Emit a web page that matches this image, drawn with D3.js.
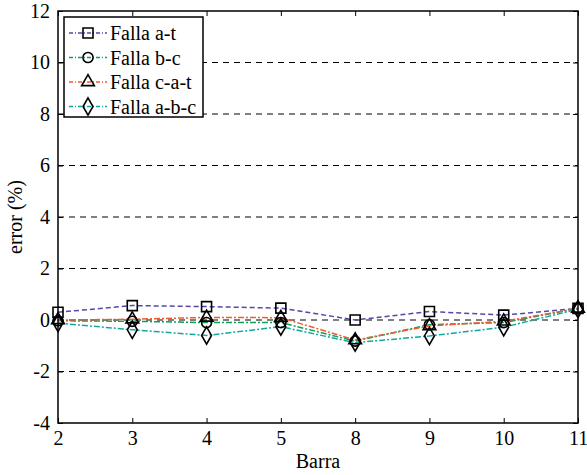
<!DOCTYPE html>
<html>
<head>
<meta charset="utf-8">
<script src="https://cdn.jsdelivr.net/npm/d3@7"></script>
<style>
  body { margin: 0; background: white; }
</style>
</head>
<body>
<div id="chart"></div>
<script>
// data
var barras = ["2", "3", "4", "5", "8", "9", "10", "11"];
var y_ticks = [-4, -2, 0, 2, 4, 6, 8, 10, 12];
var falla_at   = [0.30, 0.56, 0.52, 0.46, 0.00, 0.33, 0.19, 0.45];
var falla_bc   = [-0.03, -0.05, -0.10, -0.10, -0.82, -0.18, -0.10, 0.45];
var falla_cat  = [0.00, 0.03, 0.10, 0.09, -0.78, -0.23, -0.05, 0.45];
var falla_abc  = [-0.12, -0.38, -0.60, -0.26, -0.88, -0.62, -0.28, 0.42];

var series_names = ["Falla a-t", "Falla b-c", "Falla c-a-t", "Falla a-b-c"];
var series_vals = [falla_at, falla_bc, falla_cat, falla_abc];
var series_cols = ["#5548a8", "#0f9f55", "#f45a32", "#12a8a0"];
var series_dash = ["5,3", "6,2,2,2", "6,2,2,2", "6,2,2,2"];
var series_mark = ["square", "circle", "triangle", "diamond"];

var W = 587, H = 475;
// plot box edges (window.top is reserved, so use prefixed names)
var pLeft = 58, pRight = 578, pTop = 11, pBottom = 423;
var FONT = "'Liberation Serif', 'Times New Roman', serif";

var svg = d3.select("#chart").append("svg")
  .attr("width", W)
  .attr("height", H)
  .attr("font-family", FONT);

var x = d3.scalePoint().domain(barras).range([pLeft, pRight]).padding(0);
var y = d3.scaleLinear().domain([-4, 12]).range([pBottom, pTop]);

// grid lines (horizontal, dashed)
svg.append("g").selectAll("line")
  .data(y_ticks.filter(function(d){ return d > -4 && d < 12; }))
  .enter().append("line")
    .attr("x1", pLeft).attr("x2", pRight)
    .attr("y1", function(d){ return y(d); })
    .attr("y2", function(d){ return y(d); })
    .style("stroke", "black")
    .style("stroke-width", 1)
    .style("stroke-dasharray", "6,5");

// axes with inward ticks, mirrored on the other sides
var plain = function(d){ return String(d); };   // plain hyphen like matlab
var xAxis = d3.axisBottom(x).tickSizeInner(-5).tickSizeOuter(0).tickPadding(8);
var yAxis = d3.axisLeft(y).tickValues(y_ticks).tickFormat(plain)
  .tickSizeInner(-5).tickSizeOuter(0).tickPadding(8);

var gx = svg.append("g").attr("transform", "translate(0," + pBottom + ")").call(xAxis);
var gy = svg.append("g").attr("transform", "translate(" + pLeft + ",0)").call(yAxis);
svg.append("g").attr("transform", "translate(0," + pTop + ")")
  .call(d3.axisTop(x).tickSizeInner(-5).tickSizeOuter(0).tickFormat(""));
svg.append("g").attr("transform", "translate(" + pRight + ",0)")
  .call(d3.axisRight(y).tickValues(y_ticks).tickSizeInner(-5).tickSizeOuter(0).tickFormat(""));

svg.selectAll(".domain").remove();
svg.selectAll(".tick line").style("stroke", "black").style("stroke-width", 1);
[gx, gy].forEach(function(g){
  g.attr("font-family", FONT).attr("font-size", 20);
  g.selectAll("text").attr("fill", "black");
});

// series lines
var line = d3.line()
  .x(function(d, i){ return x(barras[i]); })
  .y(function(d){ return y(d); });

var symbols = {
  square: d3.symbolSquare,
  circle: d3.symbolCircle,
  triangle: d3.symbolTriangle,
  diamond: d3.symbolDiamond
};
var symSize = { square: 100, circle: 80, triangle: 70, diamond: 85 };

for (var s = 0; s < series_vals.length; s++) {
  svg.append("path")
    .datum(series_vals[s])
    .attr("d", line)
    .style("fill", "none")
    .style("stroke", series_cols[s])
    .style("stroke-width", 1.5)
    .style("stroke-dasharray", series_dash[s]);
}
for (var s = 0; s < series_vals.length; s++) {
  var m = series_mark[s];
  svg.append("g").selectAll("path")
    .data(series_vals[s])
    .enter().append("path")
      .attr("transform", function(d, i){ return "translate(" + x(barras[i]) + "," + y(d) + ")"; })
      .attr("d", d3.symbol().type(symbols[m]).size(symSize[m]))
      .style("fill", "none")
      .style("stroke", "black")
      .style("stroke-width", 1.6);
}

// axes box
svg.append("rect")
  .attr("x", pLeft).attr("y", pTop)
  .attr("width", pRight - pLeft).attr("height", pBottom - pTop)
  .style("fill", "none")
  .style("stroke", "black")
  .style("stroke-width", 1.5);

// axis labels
svg.append("text")
  .attr("x", (pLeft + pRight) / 2)
  .attr("y", 468)
  .attr("text-anchor", "middle")
  .attr("font-size", 20)
  .text("Barra");

svg.append("text")
  .attr("transform", "translate(22," + ((pTop + pBottom) / 2) + ") rotate(-90)")
  .attr("text-anchor", "middle")
  .attr("font-size", 20)
  .text("error (%)");

// legend
var lg = svg.append("g");
lg.append("rect")
  .attr("x", 64).attr("y", 17)
  .attr("width", 139).attr("height", 100)
  .style("fill", "white")
  .style("stroke", "black")
  .style("stroke-width", 1.5);

for (var s = 0; s < series_names.length; s++) {
  var ly = 33 + s * 24.5;
  lg.append("line")
    .attr("x1", 69).attr("x2", 107)
    .attr("y1", ly).attr("y2", ly)
    .style("stroke", series_cols[s])
    .style("stroke-width", 1.5)
    .style("stroke-dasharray", "4,2,1,2");
  lg.append("path")
    .attr("transform", "translate(88," + ly + ")")
    .attr("d", d3.symbol().type(symbols[series_mark[s]]).size(symSize[series_mark[s]]))
    .style("fill", "none")
    .style("stroke", "black")
    .style("stroke-width", 1.6);
  lg.append("text")
    .attr("x", 110).attr("y", ly)
    .attr("dy", "0.35em")
    .attr("font-size", 20)
    .text(series_names[s]);
}
</script>
</body>
</html>
